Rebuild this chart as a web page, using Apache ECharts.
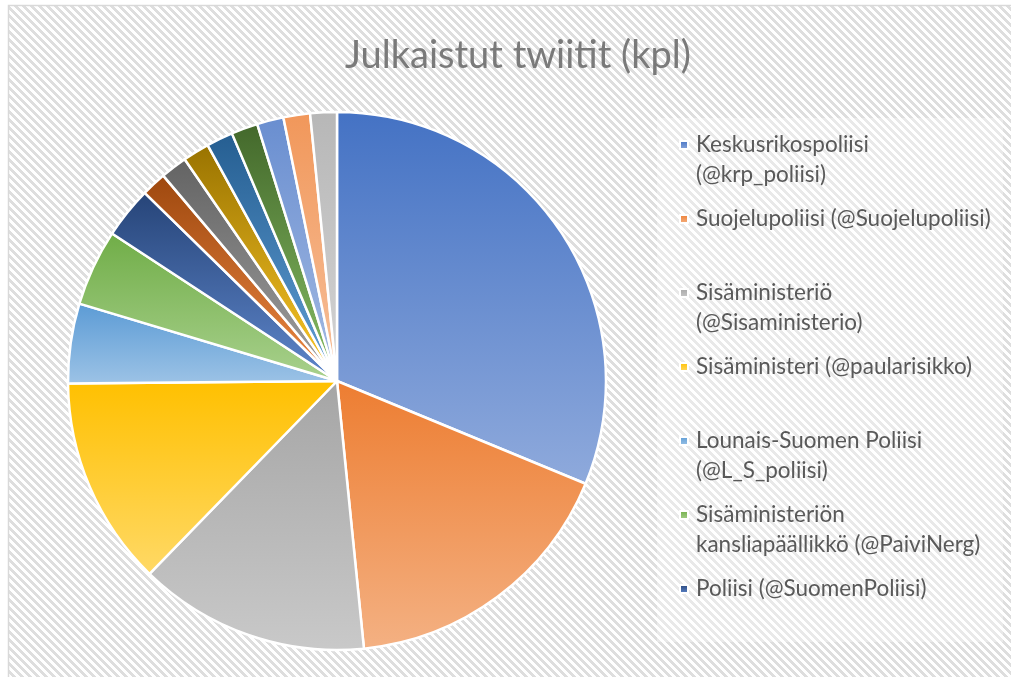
<!DOCTYPE html>
<html>
<head>
<meta charset="utf-8">
<script src="https://cdn.jsdelivr.net/npm/echarts@6/dist/echarts.min.js"></script>
<style>
html,body{margin:0;padding:0;background:#fff;}
#chart{width:1011px;height:677px;}
</style>
</head>
<body>
<div id="chart"></div>
<script>
// ---- data ----
const titleText = 'Julkaistut twiitit (kpl)';
const categories = [
  'Keskusrikospoliisi (@krp_poliisi)',
  'Suojelupoliisi (@Suojelupoliisi)',
  'Sisäministeriö (@Sisaministerio)',
  'Sisäministeri (@paularisikko)',
  'Lounais-Suomen Poliisi (@L_S_poliisi)',
  'Sisäministeriön kansliapäällikkö (@PaiviNerg)',
  'Poliisi (@SuomenPoliisi)',
  'Muu tili 8', 'Muu tili 9', 'Muu tili 10', 'Muu tili 11',
  'Muu tili 12', 'Muu tili 13', 'Muu tili 14', 'Muu tili 15'
];
const values = [313, 172, 139, 126, 48, 46, 31, 15, 16, 16, 16, 16, 16, 16, 16];
const legendLines = [
  ['Keskusrikospoliisi', '(@krp_poliisi)'],
  ['Suojelupoliisi (@Suojelupoliisi)'],
  ['Sisäministeriö', '(@Sisaministerio)'],
  ['Sisäministeri (@paularisikko)'],
  ['Lounais-Suomen Poliisi', '(@L_S_poliisi)'],
  ['Sisäministeriön', 'kansliapäällikkö (@PaiviNerg)'],
  ['Poliisi (@SuomenPoliisi)']
];

// ---- style ----
const palette = ['#4472C4','#ED7D31','#A5A5A5','#FFC000','#5B9BD5','#70AD47',
  '#264478','#9E480E','#636363','#997300','#255E91','#43682B',
  '#698ED0','#F1975A','#B7B7B7'];

function lighten(hex, amt) {
  let r = parseInt(hex.slice(1,3),16)/255, g = parseInt(hex.slice(3,5),16)/255, b = parseInt(hex.slice(5,7),16)/255;
  const max = Math.max(r,g,b), min = Math.min(r,g,b);
  let h = 0, s = 0, l = (max+min)/2;
  if (max !== min) {
    const d = max - min;
    s = l > 0.5 ? d/(2-max-min) : d/(max+min);
    if (max === r) h = (g-b)/d + (g<b?6:0);
    else if (max === g) h = (b-r)/d + 2;
    else h = (r-g)/d + 4;
    h /= 6;
  }
  l = l + (1-l)*amt;
  function hue2rgb(p,q,t){ if(t<0)t+=1; if(t>1)t-=1; if(t<1/6)return p+(q-p)*6*t; if(t<1/2)return q; if(t<2/3)return p+(q-p)*(2/3-t)*6; return p; }
  let rr, gg, bb;
  if (s === 0) { rr = gg = bb = l; }
  else {
    const q = l < 0.5 ? l*(1+s) : l+s-l*s, p = 2*l-q;
    rr = hue2rgb(p,q,h+1/3); gg = hue2rgb(p,q,h); bb = hue2rgb(p,q,h-1/3);
  }
  const toHex = v => ('0'+Math.round(v*255).toString(16)).slice(-2);
  return '#' + toHex(rr) + toHex(gg) + toHex(bb);
}

function grad(c) {
  return { type:'linear', x:0, y:0, x2:0, y2:1,
    colorStops:[{offset:0,color:c},{offset:1,color:lighten(c,0.4)}] };
}

// hatch pattern
const tile = document.createElement('canvas');
tile.width = 8; tile.height = 8;
const tctx = tile.getContext('2d');
tctx.fillStyle = '#ffffff'; tctx.fillRect(0,0,8,8);
tctx.fillStyle = '#dedede';
for (let y = 0; y < 8; y++) for (let x = 0; x < 8; x++) {
  if ((((x - y) % 8) + 8) % 8 < 4) tctx.fillRect(x,y,1,1);
}

const chart = echarts.init(document.getElementById('chart'), null, {renderer:'canvas'});
const legendNames = categories.slice(0, 7);
const legendFmt = {};
legendNames.forEach((n,i) => {
  const ls = legendLines[i];
  legendFmt[n] = ls.length === 2 ? ('\n' + ls[0] + '\n' + ls[1]) : ('\n' + ls[0] + '\n ');
});

chart.setOption({
  animation: false,
  backgroundColor: '#ffffff',
  graphic: [
    { type:'rect', z:-10, shape:{x:8, y:6, width:1003, height:671},
      style:{ fill:{type:'pattern', image: tile, repeat:'repeat'} } },
    { type:'rect', z:-9, shape:{x:657, y:118, width:346, height:524},
      style:{ fill:'rgba(255,255,255,0.35)' } },
    { type:'polyline', z:-8, shape:{points:[[8.5,677],[8.5,5.5],[1011,5.5]]},
      style:{ stroke:'#d9d9d9', lineWidth:1.5, fill:null } }
  ],
  title: {
    text: titleText,
    left: 513, top: 32, textAlign: 'center',
    textStyle: { fontFamily:'Lato', fontWeight:'normal', fontSize:38, color:'#7a7a7a' }
  },
  legend: {
    orient: 'vertical',
    left: 679, top: 100,
    padding: 0,
    itemGap: -16,
    itemWidth: 8, itemHeight: 8,
    icon: 'rect',
    data: legendNames,
    formatter: n => legendFmt[n],
    textStyle: { fontFamily:'Lato', fontSize:22.5, lineHeight:30, color:'#595959', padding:[0,0,0,3] }
  },
  series: [{
    type: 'pie',
    center: [337, 381],
    radius: [0, 269],
    startAngle: 90,
    clockwise: true,
    label: { show:false },
    labelLine: { show:false },
    emphasis: { disabled: true },
    itemStyle: { borderColor:'#ffffff', borderWidth:2.5 },
    data: categories.map((n,i) => ({ name:n, value:values[i], itemStyle:{ color: grad(palette[i]) } }))
  }]
});
</script>
</body>
</html>
